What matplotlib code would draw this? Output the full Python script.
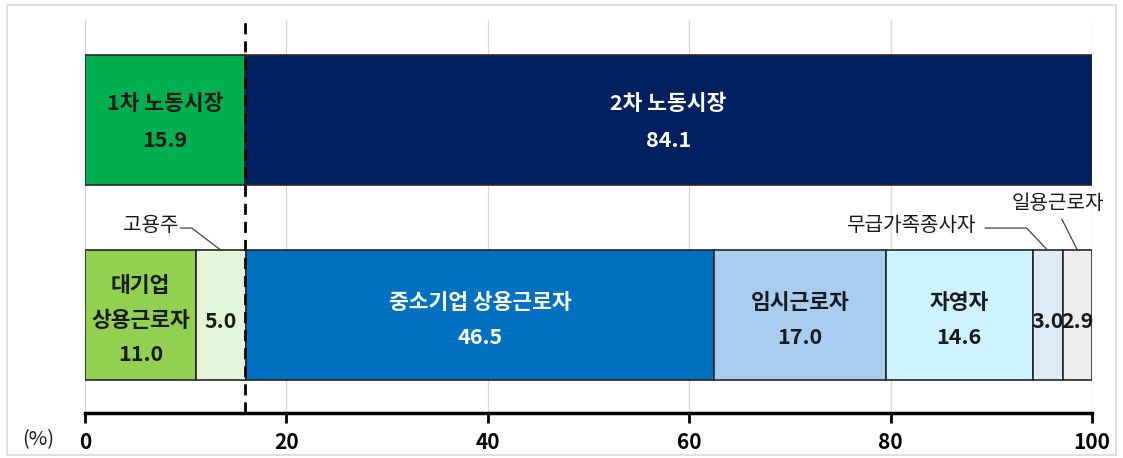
import numpy as np
import matplotlib.pyplot as plt
from matplotlib.patches import Rectangle

plt.rcParams['font.family'] = ['Noto Sans CJK KR', 'DejaVu Sans']

# top bar: primary / secondary labour market
top_labels = ['1차 노동시장', '2차 노동시장']
top_values = [15.9, 84.1]
top_colors = ['#00B050', '#002060']
top_text = ['#1a1a1a', 'white']

# bottom bar: employment types
bot_labels = ['대기업\n상용근로자', '고용주', '중소기업 상용근로자', '임시근로자', '자영자', '무급가족종사자', '일용근로자']
bot_values = [11.0, 5.0, 46.5, 17.0, 14.6, 3.0, 2.9]
bot_colors = ['#92D050', '#E2F5D9', '#0070C0', '#A9CDF0', '#CCF2FF', '#DDEBF7', '#EDEDED']
bot_text = ['#1a1a1a', '#1a1a1a', 'white', '#1a1a1a', '#1a1a1a', '#1a1a1a', '#1a1a1a']
inside_name = [True, False, True, True, True, False, False]

xticks = [0, 20, 40, 60, 80, 100]
cut = 15.9

fig = plt.figure(figsize=(11.23, 4.58), dpi=100)
fig.patches.append(Rectangle((0.006, 0.006), 0.988, 0.982, transform=fig.transFigure,
                             fill=False, edgecolor='#D9D9D9', linewidth=1.2))
ax = fig.add_axes([0.0757, 0.0983, 0.8967, 0.858])

h = 0.665
y_top, y_bot = 1, 0
fs = 15.5

left = np.concatenate([[0], np.cumsum(top_values)[:-1]])
ax.barh(y_top, top_values, left=left, height=h, color=top_colors,
        edgecolor='#262626', linewidth=1.2, zorder=3)
for l, v, name, c in zip(left, top_values, top_labels, top_text):
    ax.text(l + v / 2, y_top - 0.01, f'{name}\n{v:.1f}', ha='center', va='center',
            fontsize=fs, fontweight='bold', color=c, linespacing=1.95, zorder=4)

left = np.concatenate([[0], np.cumsum(bot_values)[:-1]])
ax.barh(y_bot, bot_values, left=left, height=h, color=bot_colors,
        edgecolor='#262626', linewidth=1.2, zorder=3)
for l, v, name, c, inside in zip(left, bot_values, bot_labels, bot_text, inside_name):
    s = f'{name}\n{v:.1f}' if inside else f'{v:.1f}'
    ax.text(l + v / 2, y_bot - 0.025 if inside else y_bot - 0.03, s, ha='center', va='center',
            fontsize=fs, fontweight='bold', color=c, linespacing=1.8, zorder=4)

# callouts for small segments
bar_top = y_bot + h / 2
callouts = [
    (1, 9.3, 0.46, 'right', [(9.5, 0.446), (10.6, 0.446)]),
    (5, 88.4, 0.46, 'right', [(89.4, 0.446), (93.5, 0.446)]),
    (6, 96.6, 0.57, 'center', [(97.0, 0.492)]),
]
for i, tx, ty, ha, pts in callouts:
    xc = left[i] + bot_values[i] / 2
    ax.text(tx, ty, bot_labels[i], ha=ha, va='center', fontsize=14.5, color='#1a1a1a', zorder=4)
    xs = [p[0] for p in pts] + [xc]
    ys = [p[1] for p in pts] + [bar_top]
    ax.plot(xs, ys, color='#404040', linewidth=0.9, zorder=4)

ax.axvline(cut, color='black', linewidth=2, linestyle=(0, (4, 2.5)), zorder=5)

ax.set_xlim(0, 100)
ax.set_ylim(-0.5, 1.51)
ax.set_xticks(xticks)
ax.set_xticklabels([str(t) for t in xticks], fontweight='bold')
ax.set_yticks([])
ax.grid(axis='x', color='#D9D9D9', linewidth=1, zorder=0)
for s in ['top', 'right', 'left']:
    ax.spines[s].set_visible(False)
ax.spines['bottom'].set_linewidth(2.5)
ax.spines['bottom'].set_color('black')
ax.tick_params(axis='x', direction='out', length=7, width=2, pad=7,
               labelsize=15, colors='black')
fig.text(38 / 1123, 1 - 440 / 458, '(%)', ha='center', va='center', fontsize=14.5, color='#1a1a1a')

fig.savefig('out.png', dpi=100)
